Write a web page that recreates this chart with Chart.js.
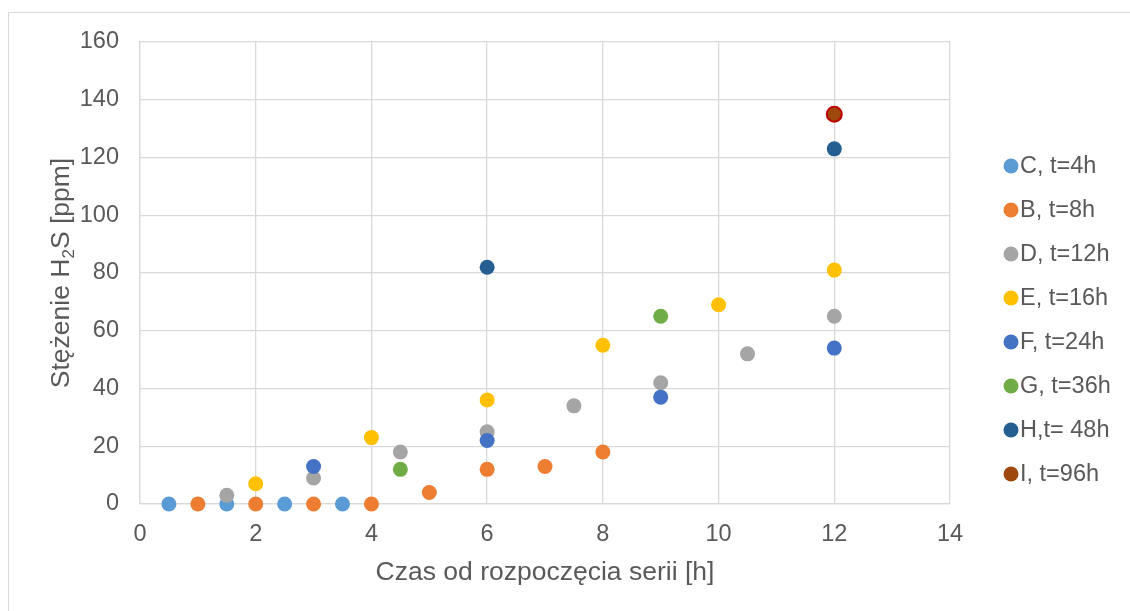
<!DOCTYPE html>
<html>
<head>
<meta charset="utf-8">
<script src="https://cdn.jsdelivr.net/npm/chart.js@4.4.0/dist/chart.umd.min.js"></script>
<style>
    body { margin: 0; background: #fff; overflow: hidden; }
    #frame { position: absolute; left: 8px; top: 12px; width: 1200px; height: 700px; border-top: 1px solid #d9d9d9; border-left: 1px solid #d9d9d9; }
    #wrap { position: absolute; left: 0; top: 0; width: 1130px; height: 611px; }
</style>
</head>
<body>
<div id="frame"></div>
<div id="wrap"><canvas id="h2s-chart" width="1130" height="611"></canvas></div>
<script>
const seriesNames = ['C, t=4h', 'B, t=8h', 'D, t=12h', 'E, t=16h', 'F, t=24h', 'G, t=36h', 'H,t= 48h', 'I, t=96h'];
const seriesColors = ['#5B9BD5', '#ED7D31', '#A5A5A5', '#FFC000', '#4472C4', '#70AD47', '#255E91', '#9E480E'];

const timeC = [0.5, 1.5, 2.5, 3.5];
const valC = [0, 0, 0, 0];
const timeB = [1, 2, 3, 4, 5, 6, 7, 8];
const valB = [0, 0, 0, 0, 4, 12, 13, 18];
const timeD = [1.5, 3, 4.5, 6, 7.5, 9, 10.5, 12];
const valD = [3, 9, 18, 25, 34, 42, 52, 65];
const timeE = [2, 4, 6, 8, 10, 12];
const valE = [7, 23, 36, 55, 69, 81];
const timeF = [3, 6, 9, 12];
const valF = [13, 22, 37, 54];
const timeG = [4.5, 9];
const valG = [12, 65];
const timeH = [6, 12];
const valH = [82, 123];
const timeI = [12];
const valI = [135];

const xTicks = [0, 2, 4, 6, 8, 10, 12, 14];
const yTicks = [0, 20, 40, 60, 80, 100, 120, 140, 160];

const allTimes = [timeC, timeB, timeD, timeE, timeF, timeG, timeH, timeI];
const allVals = [valC, valB, valD, valE, valF, valG, valH, valI];

const FONT = '"Liberation Sans", Arial, sans-serif';
const TEXT_COLOR = '#595959';

function toPoints(xs, ys) {
    return xs.map((x, i) => ({ x: x, y: ys[i] }));
}

// y axis title with a real subscript 2
const yTitlePlugin = {
    id: 'yTitle',
    afterDraw(chart) {
        const ctx = chart.ctx;
        const area = chart.chartArea;
        const big = '26.5px ' + FONT;
        const small = '17px ' + FONT;
        const a = 'Stężenie H', b = '2', c = 'S [ppm]';
        ctx.save();
        ctx.translate(62, (area.top + area.bottom) / 2);
        ctx.rotate(-Math.PI / 2);
        ctx.fillStyle = TEXT_COLOR;
        ctx.textBaseline = 'middle';
        ctx.textAlign = 'left';
        ctx.font = big;
        const wa = ctx.measureText(a).width;
        const wc = ctx.measureText(c).width;
        ctx.font = small;
        const wb = ctx.measureText(b).width;
        let x = -(wa + wb + wc) / 2;
        ctx.font = big;
        ctx.fillText(a, x, 0);
        x += wa;
        ctx.font = small;
        ctx.fillText(b, x, 7);
        x += wb;
        ctx.font = big;
        ctx.fillText(c, x, 0);
        ctx.restore();
    }
};

// legend on the right, drawn from the datasets
const sideLegend = {
    id: 'sideLegend',
    afterDraw(chart) {
        const ctx = chart.ctx;
        ctx.save();
        ctx.font = '23.5px ' + FONT;
        ctx.textBaseline = 'middle';
        ctx.textAlign = 'left';
        chart.data.datasets.forEach((ds, i) => {
            const y = 166 + i * 44;
            ctx.beginPath();
            ctx.arc(1011, y, 7.5, 0, Math.PI * 2);
            ctx.fillStyle = ds.backgroundColor;
            ctx.fill();
            ctx.fillStyle = TEXT_COLOR;
            ctx.fillText(ds.label, 1020, y + 1);
        });
        ctx.restore();
    }
};

function drawChart() {
    const ctx = document.getElementById('h2s-chart').getContext('2d');
    const datasets = seriesNames.map((name, i) => ({
        label: name,
        data: toPoints(allTimes[i], allVals[i]),
        backgroundColor: seriesColors[i],
        borderColor: i === 7 ? '#C00000' : seriesColors[i],
        borderWidth: i === 7 ? 2 : 0,
        pointRadius: 7.5,
        pointHoverRadius: 7.5,
        order: seriesNames.length - i,
        clip: false,
    }));

    new Chart(ctx, {
        type: 'scatter',
        data: { datasets: datasets },
        options: {
            responsive: false,
            animation: false,
            events: [],
            layout: { padding: { top: 42, right: 180, left: 0, bottom: 0 } },
            plugins: {
                legend: { display: false },
                tooltip: { enabled: false },
            },
            scales: {
                x: {
                    type: 'linear',
                    min: 0,
                    max: 14,
                    afterFit: s => { s.height = 107; },
                    afterBuildTicks: s => { s.ticks = xTicks.map(v => ({ value: v })); },
                    grid: { color: '#D9D9D9', lineWidth: 1.3, drawTicks: false },
                    border: { color: '#D9D9D9', width: 1.3 },
                    ticks: { color: TEXT_COLOR, font: { family: FONT, size: 23.5 }, padding: 16, maxRotation: 0 },
                    title: {
                        display: true,
                        text: 'Czas od rozpoczęcia serii [h]',
                        color: TEXT_COLOR,
                        font: { family: FONT, size: 26.5 },
                        padding: { top: 0, bottom: 22 },
                    },
                },
                y: {
                    type: 'linear',
                    min: 0,
                    max: 160,
                    afterFit: s => { s.width = 140; },
                    afterBuildTicks: s => { s.ticks = yTicks.map(v => ({ value: v })); },
                    grid: { color: '#D9D9D9', lineWidth: 1.3, drawTicks: false },
                    border: { color: '#D9D9D9', width: 1.3 },
                    ticks: { color: TEXT_COLOR, font: { family: FONT, size: 23.5 }, padding: 21 },
                },
            },
        },
        plugins: [yTitlePlugin, sideLegend],
    });
}

window.onload = () => {
    drawChart();
};
</script>
</body>
</html>
